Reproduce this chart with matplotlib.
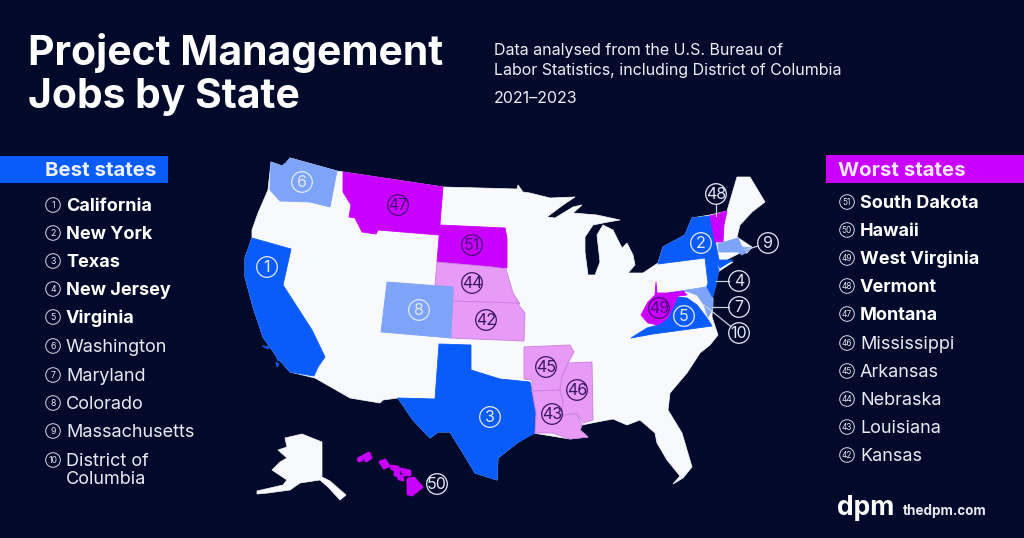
import math
import matplotlib
matplotlib.use("Agg")
import matplotlib.pyplot as plt
from matplotlib.patches import Polygon, Circle, Rectangle

FONT = ["Inter", "DejaVu Sans"]
plt.rcParams["font.family"] = FONT

BG = "#020A2B"
LAND = "#F8F9FC"
BLUE = "#0A5CFA"
LBLUE = "#7DA4F8"
MAGENTA = "#C900FF"
PINK = "#E79BF6"

title_lines = ["Project Management", "Jobs by State"]
subtitle_lines = ["Data analysed from the U.S. Bureau of", "Labor Statistics, including District of Columbia"]
period = "2021–2023"
best_states = ["California", "New York", "Texas", "New Jersey", "Virginia", "Washington",
               "Maryland", "Colorado", "Massachusetts", "District of\nColumbia"]
best_ranks = [1, 2, 3, 4, 5, 6, 7, 8, 9, 10]
worst_states = ["South Dakota", "Hawaii", "West Virginia", "Vermont", "Montana", "Mississippi",
                "Arkansas", "Nebraska", "Louisiana", "Kansas"]
worst_ranks = [51, 50, 49, 48, 47, 46, 45, 44, 43, 42]

# Traced outlines, in image pixels
lower48 = [(271,162),(282,166),(286,163),(290,158),(337,171),(343,172),(443,187),(517,189),(518,185),(523,192),
 (530,193),(550,198),(575,197),(563,205),(547,217),(555,218),(573,207),(582,205),(573,213),(597,215),(620,220),
 (608,222),(593,225),(585,237),(585,252),(588,275),(595,275),(600,262),(597,235),(603,225),
 (613,230),(622,248),(627,243),(633,255),(635,265),(628,273),(643,273),(658,263),(663,247),
 (685,235),(692,218),(710,215),(727,211),(737,177),(750,177),(765,202),(752,212),(740,225),(737,237),
 (752,247),(747,253),(740,253),(720,263),(733,262),(718,272),(715,288),(710,297),(713,298),
 (712,317),(718,335),(710,345),(700,353),(687,373),(670,393),(668,410),(682,433),(692,467),
 (683,478),(673,484),(680,476),(667,460),(657,443),(655,433),(640,420),(627,425),(613,419),(597,422),
 (582,425),(580,430),(588,437),(570,439),(533,433),(517,443),(498,458),(497,480),(475,473),
 (463,453),(450,432),(438,432),(430,438),(413,420),(398,398),(383,400),(380,403),(350,398),
 (315,378),(290,372),(277,357),(263,337),(253,307),(245,277),(245,258),(252,238),(252,230),
 (258,213),(268,190)]
states = {
 "Washington": [(271,162),(282,166),(286,163),(290,158),(337,171),(330,207),(310,202),(280,201),(270,190)],
 "Montana": [(343,172),(443,187),(440,224),(439,235),(378,230),(376,234),(362,232),(355,218),(349,217),(351,205),(343,192)],
 "South Dakota": [(440,225),(505,228),(507,238),(507,268),(493,267),(437,262)],
 "Nebraska": [(437,262),(493,267),(506,269),(513,293),(520,304),(453,301),(453,287),(435,285)],
 "Kansas": [(453,301),(517,303),(525,313),(524,341),(450,338)],
 "Colorado": [(387,282),(453,287),(451,338),(381,332)],
 "California": [(252,238),(291,249),(283,285),(312,330),(325,357),(318,367),(314,376),(290,372),(277,357),(263,337),(253,307),(245,277),(245,258)],
 "Texas": [(439,344),(471,345),(471,370),(500,379),(530,382),(532,390),(537,413),(535,433),(517,443),(498,458),(497,480),(475,473),(463,453),(450,432),(438,432),(430,438),(413,420),(398,398),(435,399)],
 "Arkansas": [(524,347),(570,345),(574,352),(568,363),(562,377),(560,390),(532,391),(532,380),(524,379)],
 "Mississippi": [(568,363),(592,362),(593,420),(583,423),(577,413),(562,415),(563,400),(560,390),(562,377)],
 "Louisiana": [(532,391),(560,390),(563,402),(562,415),(577,414),(582,425),(580,430),(588,437),(570,439),(553,433),(535,433),(536,413)],
 "New York": [(658,264),(663,247),(685,235),(692,218),(710,216),(715,240),(719,260),(733,260),(720,268),(716,262),(705,258)],
 "New Jersey": [(705,258),(716,262),(719,270),(716,285),(713,297),(705,292),(708,283)],
 "Vermont": [(710,216),(727,211),(724,225),(723,242),(715,242)],
 "Massachusetts": [(718,244),(738,238),(742,247),(752,248),(742,255),(738,252),(719,252)],
 "Maryland": [(668,293),(706,287),(713,300),(713,308),(708,317),(704,305),(697,295),(686,291),(673,296)],
 "Virginia": [(631,338),(647,328),(658,325),(668,318),(678,297),(687,298),(697,305),(707,318),(712,326),(653,334)],
 "West Virginia": [(656,282),(657,293),(668,293),(683,291),(687,295),(678,296),(668,318),(658,325),(648,323),(641,315),(648,302),(655,295)],
}
alaska = [(285,438),(302,434),(322,442),(322,477),(330,481),(346,495),(340,500),(328,487),(320,480),(300,483),
          (290,490),(268,493),(257,494),(257,491),(283,485),(287,480),(272,470),(280,462),(287,458),(278,450),(287,447)]
hawaii = [[(363,456),(369,453),(371,458),(366,461)],[(358,459),(361,457),(362,460),(359,461)],
          [(380,462),(385,460),(389,466),(384,468)],[(391,466),(398,467),(399,470),(392,469)],
          [(401,469),(410,471),(410,475),(404,475)],[(395,471),(399,472),(398,476),(395,475)],
          [(398,476),(402,476),(403,480),(399,479)],[(408,479),(414,478),(422,487),(412,495),(408,494)]]
channel_islands = [[(262,346),(270,347),(268,349)],[(276,356),(280,358),(278,361)],[(276,362),(279,364),(277,367)]]

state_rank = {"California":1,"New York":2,"Texas":3,"New Jersey":4,"Virginia":5,"Washington":6,"Maryland":7,
 "Colorado":8,"Massachusetts":9,"Kansas":42,"Louisiana":43,"Nebraska":44,"Arkansas":45,"Mississippi":46,
 "Montana":47,"Vermont":48,"West Virginia":49,"South Dakota":51}

def rank_colour(r):
    if r <= 5: return BLUE
    if r <= 10: return LBLUE
    if r >= 47: return MAGENTA
    return PINK

badges = {1:(267,267),2:(701,243),3:(490,417),4:(739,281),5:(684,316),6:(302,182),7:(739,307),8:(419,310),
 9:(768,243),10:(739,333),42:(486,320),43:(552,414),44:(472,283),45:(546,367),46:(577,390),47:(398,205),
 48:(716,194),49:(659,308),50:(437,484),51:(472,245)}
leaders = {48:(716,216),9:(745,250),4:(716,281),7:(712,307),10:(704,305)}
dark_on_pink = {42,43,44,45,46}
dark_on_magenta = {47,49,51}

fig = plt.figure(figsize=(10.24,5.38), dpi=100, facecolor=BG)
ax = fig.add_axes([0,0,1,1])
ax.set_xlim(0,1024); ax.set_ylim(538,0); ax.axis("off")

ax.add_patch(Polygon(lower48, closed=True, fc=LAND, ec=LAND, lw=0.5, joinstyle="round"))
ax.add_patch(Polygon(alaska, closed=True, fc=LAND, ec=LAND, lw=0.5, joinstyle="round"))
for name, pts in states.items():
    c = rank_colour(state_rank[name])
    ec = "#C77FE0" if c == PINK else c
    ax.add_patch(Polygon(pts, closed=True, fc=c, ec=ec, lw=0.6, joinstyle="round"))
for pts in hawaii:
    ax.add_patch(Polygon(pts, closed=True, fc=MAGENTA, ec=MAGENTA, lw=2.0, joinstyle="round"))
for pts in channel_islands:
    ax.add_patch(Polygon(pts, closed=True, fc=BLUE, ec=BLUE, lw=0.6))

for r, (cx, cy) in badges.items():
    if r in dark_on_pink:
        col = "#3A1560"
    elif r in dark_on_magenta:
        col = "#4A0F7A"
    else:
        col = "#E4E9F8"
    if r in leaders:
        lx, ly = leaders[r]
        d = math.hypot(lx-cx, ly-cy)
        ax.plot([cx+(lx-cx)*10.5/d, lx], [cy+(ly-cy)*10.5/d, ly], color="#C9CEDD", lw=0.9, zorder=4)
    ax.add_patch(Circle((cx,cy), 10.3, fc="none", ec=col, lw=0.9, zorder=5))
    ax.text(cx, cy+5, str(r), color=col, fontsize=11.5, ha="center", va="baseline", zorder=6)

# Header text
for line, y in zip(title_lines, (65, 108)):
    ax.text(28, y, line, color="white", fontsize=29.4, fontweight="bold", va="baseline", ha="left")
for line, y in zip(subtitle_lines, (55, 75)):
    ax.text(494, y, line, color="#EDEFF6", fontsize=11.5, va="baseline", ha="left")
ax.text(494, 103, period, color="#EDEFF6", fontsize=11.5, va="baseline", ha="left")

# Side lists
ax.add_patch(Rectangle((0,156),168,27, fc=BLUE, ec="none"))
ax.text(100.5,175.5,"Best states",color="#EAF0FF",fontsize=14.7,fontweight="bold",ha="center",va="baseline")
ax.add_patch(Rectangle((826,155),198,28, fc=MAGENTA, ec="none"))
ax.text(901.5,175.5,"Worst states",color="#F7E6FF",fontsize=14.7,fontweight="bold",ha="center",va="baseline")

left_y = [205,233,261,289,317,346,375,403,431,460]
for name, r, y in zip(best_states, best_ranks, left_y):
    ax.add_patch(Circle((53,y),7.3,fc="none",ec="#D5D9E6",lw=0.7))
    ax.text(53,y+3,str(r),color="#E4E7F0",fontsize=6.3,ha="center",va="baseline")
    for j, part in enumerate(name.split("\n")):
        ax.text(66,y+6+j*18,part,color="white" if r<=5 else "#E8EAF2",fontsize=13,
                fontweight="bold" if r<=5 else "normal",ha="left",va="baseline")
right_y = [202,230,258,286,314,343,371,399,427,455]
for name, r, y in zip(worst_states, worst_ranks, right_y):
    ax.add_patch(Circle((847,y),7.3,fc="none",ec="#D5D9E6",lw=0.7))
    ax.text(847,y+3,str(r),color="#E4E7F0",fontsize=6.0,ha="center",va="baseline")
    ax.text(860,y+6,name,color="white" if r>=47 else "#E8EAF2",fontsize=13,
            fontweight="bold" if r>=47 else "normal",ha="left",va="baseline")

# Brand
ax.text(837,515,"dpm",color="white",fontsize=19,fontweight="bold",ha="left",va="baseline")
ax.text(903,515,"thedpm.com",color="#E8EAF2",fontsize=9.7,fontweight="bold",ha="left",va="baseline")

fig.savefig("out.png", dpi=100, facecolor=BG)
